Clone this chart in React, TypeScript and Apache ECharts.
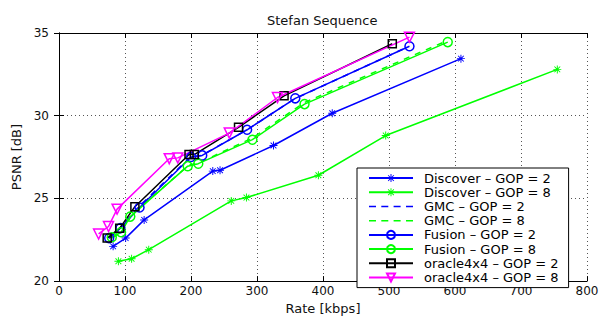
import React, { useEffect, useRef } from "react";
import * as echarts from "echarts";

const seriesNames = [
  "Discover – GOP = 2",
  "Discover – GOP = 8",
  "GMC – GOP = 2",
  "GMC – GOP = 8",
  "Fusion – GOP = 2",
  "Fusion – GOP = 8",
  "oracle4x4 – GOP = 2",
  "oracle4x4 – GOP = 8",
];

const discover2Rate = [82, 101, 129, 233, 244, 325, 414, 609];
const discover2Psnr = [22.1, 22.6, 23.7, 26.65, 26.7, 28.2, 30.15, 33.45];
const discover8Rate = [90, 110, 136, 261, 284, 393, 495, 755];
const discover8Psnr = [21.2, 21.35, 21.9, 24.85, 25.05, 26.4, 28.8, 32.8];
const gmc2Rate = [76, 93, 121, 199, 216, 283, 356, 528];
const gmc2Psnr = [22.6, 23.25, 24.5, 27.5, 27.6, 29.1, 31.0, 34.15];
const gmc8Rate = [80, 95, 109, 196, 212, 293, 372, 586];
const gmc8Psnr = [22.6, 22.95, 23.95, 27.0, 27.15, 28.65, 30.8, 34.5];
const fusion2Rate = [76, 93, 122, 200, 217, 285, 358, 531];
const fusion2Psnr = [22.6, 23.2, 24.45, 27.5, 27.6, 29.15, 31.05, 34.2];
const fusion8Rate = [80, 94, 108, 195, 211, 293, 372, 589];
const fusion8Psnr = [22.65, 22.95, 23.9, 26.95, 27.1, 28.55, 30.7, 34.45];
const oracle2Rate = [73, 92, 115, 197, 205, 272, 341, 505];
const oracle2Psnr = [22.6, 23.2, 24.5, 27.65, 27.65, 29.3, 31.2, 34.35];
const oracle8Rate = [60, 75, 88, 167, 180, 258, 331, 531];
const oracle8Psnr = [22.85, 23.3, 24.35, 27.4, 27.45, 28.95, 31.1, 34.75];

const xTicks = [0, 100, 200, 300, 400, 500, 600, 700, 800];
const yTicks = [20, 25, 30, 35];

const FONT = "DejaVu Sans";
const BLUE = "#0000ff";
const GREEN = "#00ff00";
const BLACK = "#000000";
const MAGENTA = "#ff00ff";

const STAR =
  "path://M4.4,0 L5.6,0 L5.6,3.6 L8.2,1 L9,1.8 L6.4,4.4 L10,4.4 L10,5.6 L6.4,5.6 L9,8.2 L8.2,9 L5.6,6.4 L5.6,10 L4.4,10 L4.4,6.4 L1.8,9 L1,8.2 L3.6,5.6 L0,5.6 L0,4.4 L3.6,4.4 L1,1.8 L1.8,1 L4.4,3.6 Z";

const DASH_ICON =
  "path://M0,0 L0.05,0 L0.05,0.05 Z M44,10 L43.95,10 L43.95,9.95 Z M0,4.25 L7,4.25 L7,5.75 L0,5.75 Z M12.3,4.25 L19.3,4.25 L19.3,5.75 L12.3,5.75 Z M24.6,4.25 L31.6,4.25 L31.6,5.75 L24.6,5.75 Z M37,4.25 L44,4.25 L44,5.75 L37,5.75 Z";

function zip(xs: number[], ys: number[]) {
  return xs.map((x, i) => [x, ys[i]]);
}

function mkSeries(
  name: string,
  xs: number[],
  ys: number[],
  color: string,
  symbol: string,
  opts: any = {}
) {
  const hollow = symbol !== "star" && symbol !== "none";
  return {
    name,
    type: "line",
    data: zip(xs, ys),
    symbol: symbol === "star" ? STAR : symbol,
    symbolSize: opts.size ?? 8,
    symbolRotate: opts.rotate ?? 0,
    showSymbol: symbol !== "none",
    lineStyle: { color, width: 1.5, type: opts.dashed ? [6, 6] : "solid" },
    itemStyle: hollow
      ? { color: "rgba(255,255,255,0)", borderColor: color, borderWidth: 1.5 }
      : { color, borderWidth: 0 },
    emphasis: { disabled: true },
    z: opts.z ?? 2,
  };
}

export default function App() {
  const ref = useRef<HTMLDivElement>(null);
  useEffect(() => {
    if (!ref.current) return;
    const chart = echarts.init(ref.current, null, { renderer: "svg" });
    const axisLine = { show: true, lineStyle: { color: "#000", width: 1 } };
    const split = { show: true, lineStyle: { color: "#555", type: [1, 3], width: 1 } };
    const legendData = seriesNames.map((n, i) =>
      n.startsWith("GMC")
        ? {
            name: n,
            icon: DASH_ICON,
            itemStyle: { color: i === 2 ? BLUE : GREEN, borderWidth: 0, opacity: 1 },
          }
        : { name: n }
    );
    chart.setOption({
      animation: false,
      backgroundColor: "#fff",
      textStyle: { fontFamily: FONT },
      title: {
        text: "Stefan Sequence",
        left: 262,
        top: 9,
        textStyle: { fontFamily: FONT, fontSize: 13, fontWeight: "normal", color: "#111" },
      },
      grid: { left: 59, right: 16, top: 33, bottom: 30 },
      legend: {
        orient: "vertical",
        left: 357,
        top: 168,
        padding: [3, 10, 3, 11],
        itemGap: 0,
        itemWidth: 44,
        itemHeight: 10,
        backgroundColor: "#fff",
        borderColor: "#000",
        borderWidth: 1,
        borderRadius: 0,
        data: legendData,
        textStyle: { fontFamily: FONT, fontSize: 13, color: "#000", padding: [0, 0, 0, 6], lineHeight: 14.2 },
      },
      xAxis: [
        {
          type: "value",
          min: 0,
          max: 800,
          interval: 100,
          name: "Rate [kbps]",
          nameLocation: "middle",
          nameGap: 17,
          nameTextStyle: { fontFamily: FONT, fontSize: 13, color: "#111" },
          axisLine,
          axisTick: { show: true, inside: true, length: 5, lineStyle: { color: "#000" } },
          axisLabel: { fontFamily: FONT, fontSize: 12, color: "#111", margin: 4, formatter: (v: number) => (xTicks.includes(v) ? String(v) : "") },
          splitLine: split,
        },
        {
          type: "value",
          position: "top",
          min: 0,
          max: 800,
          interval: 100,
          axisLine,
          axisTick: { show: true, inside: true, length: 5, lineStyle: { color: "#000" } },
          axisLabel: { show: false },
          splitLine: { show: false },
        },
      ],
      yAxis: [
        {
          type: "value",
          min: 20,
          max: 35,
          interval: 5,
          name: "PSNR [dB]",
          nameLocation: "middle",
          nameGap: 33,
          nameTextStyle: { fontFamily: FONT, fontSize: 13, color: "#111" },
          axisLine,
          axisTick: { show: true, inside: true, length: 5, lineStyle: { color: "#000" } },
          axisLabel: { fontFamily: FONT, fontSize: 12, color: "#111", margin: 10, formatter: (v: number) => (yTicks.includes(v) ? String(v) : "") },
          splitLine: split,
        },
        {
          type: "value",
          position: "right",
          min: 20,
          max: 35,
          interval: 5,
          axisLine,
          axisTick: { show: true, inside: true, length: 5, lineStyle: { color: "#000" } },
          axisLabel: { show: false },
          splitLine: { show: false },
        },
      ],
      series: [
        mkSeries(seriesNames[0], discover2Rate, discover2Psnr, BLUE, "star", { size: 8 }),
        mkSeries(seriesNames[1], discover8Rate, discover8Psnr, GREEN, "star", { size: 8 }),
        mkSeries(seriesNames[2], gmc2Rate, gmc2Psnr, BLUE, "none", { dashed: true }),
        mkSeries(seriesNames[3], gmc8Rate, gmc8Psnr, GREEN, "none", { dashed: true }),
        mkSeries(seriesNames[4], fusion2Rate, fusion2Psnr, BLUE, "circle", { size: 9 }),
        mkSeries(seriesNames[5], fusion8Rate, fusion8Psnr, GREEN, "circle", { size: 9 }),
        mkSeries(seriesNames[6], oracle2Rate, oracle2Psnr, BLACK, "rect", { size: 8 }),
        mkSeries(seriesNames[7], oracle8Rate, oracle8Psnr, MAGENTA, "triangle", { size: 10, rotate: 180 }),
      ],
    });
    return () => chart.dispose();
  }, []);
  return (
    <div
      ref={ref}
      style={{ position: "fixed", left: 0, top: 0, width: 603, height: 320, background: "#fff" }}
    />
  );
}
